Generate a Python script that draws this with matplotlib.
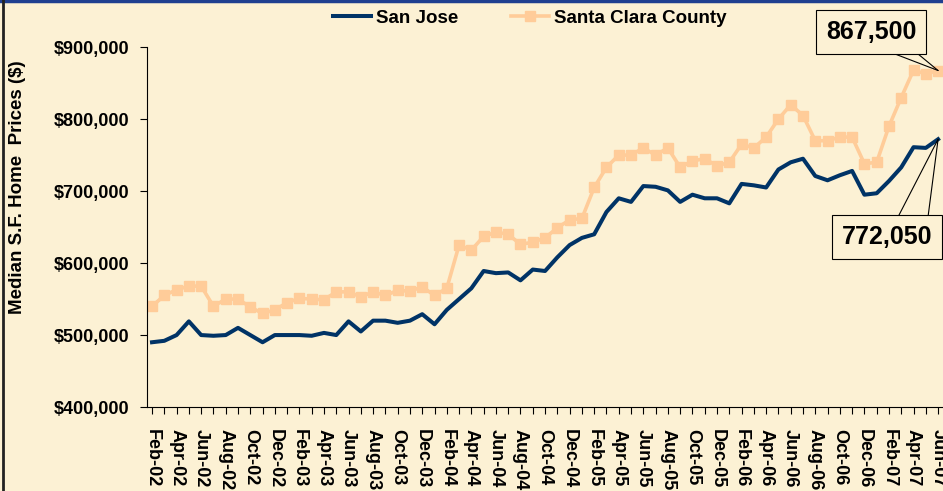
import matplotlib
matplotlib.use("Agg")
import matplotlib.pyplot as plt
import pandas as pd

plt.rcParams['font.family'] = ['Liberation Sans', 'DejaVu Sans']
plt.rcParams['font.weight'] = 'bold'

# Meses: Feb-02 .. Jun-07
meses = pd.date_range('2002-02-01', periods=65, freq='MS').strftime('%b-%y').tolist()

san_jose = [490000, 492000, 500000, 519000, 500000, 499000, 500000, 510000, 500000, 490000,
            500000, 500000, 500000, 499000, 503000, 500000, 519000, 505000, 520000, 520000,
            517000, 520000, 529000, 515000, 535000, 550000, 565000, 589000, 586000, 587000,
            576000, 591000, 589000, 608000, 625000, 635000, 640000, 671000, 690000, 685000,
            707000, 706000, 701000, 685000, 695000, 690000, 690000, 683000, 710000, 708000,
            705000, 730000, 740000, 745000, 721000, 715000, 722000, 728000, 695000, 697000,
            714000, 733000, 761000, 760000, 772050]

santa_clara = [540000, 555000, 563000, 568000, 568000, 540000, 550000, 550000, 539000, 530000,
               535000, 545000, 551000, 550000, 549000, 560000, 560000, 553000, 560000, 555000,
               562000, 561000, 567000, 555000, 565000, 625000, 618000, 637000, 643000, 640000,
               626000, 629000, 635000, 649000, 660000, 662000, 705000, 733000, 750000, 750000,
               760000, 750000, 760000, 733000, 742000, 745000, 735000, 740000, 765000, 760000,
               775000, 800000, 820000, 805000, 770000, 770000, 775000, 775000, 738000, 740000,
               790000, 830000, 868000, 863000, 867500]

fondo = '#FCF1D4'

fig = plt.figure(figsize=(9.43, 4.91), dpi=100, facecolor=fondo)
ax = fig.add_axes([0.156, 0.171, 0.844, 0.733])
ax.set_facecolor(fondo)

x = list(range(len(meses)))
ax.plot(x, san_jose, color='#003366', lw=2.9, label='San Jose', zorder=3)
ax.plot(x, santa_clara, color='#FFCC99', lw=2.6, marker='s', markersize=6.5,
        label='Santa Clara County', zorder=2)

ax.set_xlim(-0.4, len(meses) - 0.6)
ax.set_ylim(400000, 900000)
ax.set_yticks(range(400000, 900001, 100000))
ax.set_yticklabels([f'${v:,.0f}' for v in range(400000, 900001, 100000)], fontsize=13)
ax.set_xticks(x)
ax.set_xticklabels([m if i % 2 == 0 else '' for i, m in enumerate(meses)],
                   rotation=-90, fontsize=13, va='top', ha='center')
ax.tick_params(axis='x', length=5, width=0.8, pad=11)
ax.tick_params(axis='y', length=5, width=0.8, pad=8)

for lado in ['top', 'right']:
    ax.spines[lado].set_visible(False)
ax.spines['left'].set_linewidth(0.8)
ax.spines['bottom'].set_linewidth(0.8)

fig.text(18 / 943, 1 - 187 / 491, 'Median S.F. Home  Prices ($)', rotation=90,
         ha='center', va='center', fontsize=13.5, fontweight='bold')

leg = fig.legend(loc='center', bbox_to_anchor=(530 / 943, 1 - 18 / 491), ncol=2,
                 frameon=False, handlelength=2.0, handletextpad=0.3, columnspacing=2.8,
                 prop={'weight': 'bold', 'size': 13.5})

# Cuadros de valores finales
caja = dict(boxstyle='square,pad=0.4', fc=fondo, ec='black', lw=0.8)
fig.text(871 / 943, 1 - 32 / 491, f'{santa_clara[-1]:,.0f}', fontsize=18,
         ha='center', va='center', bbox=caja)
fig.text(887 / 943, 1 - 237 / 491, f'{san_jose[-1]:,.0f}', fontsize=18,
         ha='center', va='center', bbox=caja)

flecha = dict(arrowstyle='-', color='black', lw=0.8, shrinkA=0, shrinkB=0)
for px, py in [(882, 491 - 49), (912, 491 - 49)]:
    ax.annotate('', xy=(x[-1], santa_clara[-1]), xytext=(px, py),
                textcoords='figure pixels', arrowprops=flecha)
for px, py in [(898, 491 - 217), (928, 491 - 217)]:
    ax.annotate('', xy=(x[-1], san_jose[-1]), xytext=(px, py),
                textcoords='figure pixels', arrowprops=flecha)

# Borde de la figura
fig.add_artist(plt.Line2D([0, 1], [0.998, 0.998], color='#1F3F8F', lw=2.5,
                          transform=fig.transFigure))
fig.add_artist(plt.Line2D([0.003, 0.003], [0, 1], color='#222222', lw=2,
                          transform=fig.transFigure))

fig.savefig('out.png', dpi=100, facecolor=fondo)
